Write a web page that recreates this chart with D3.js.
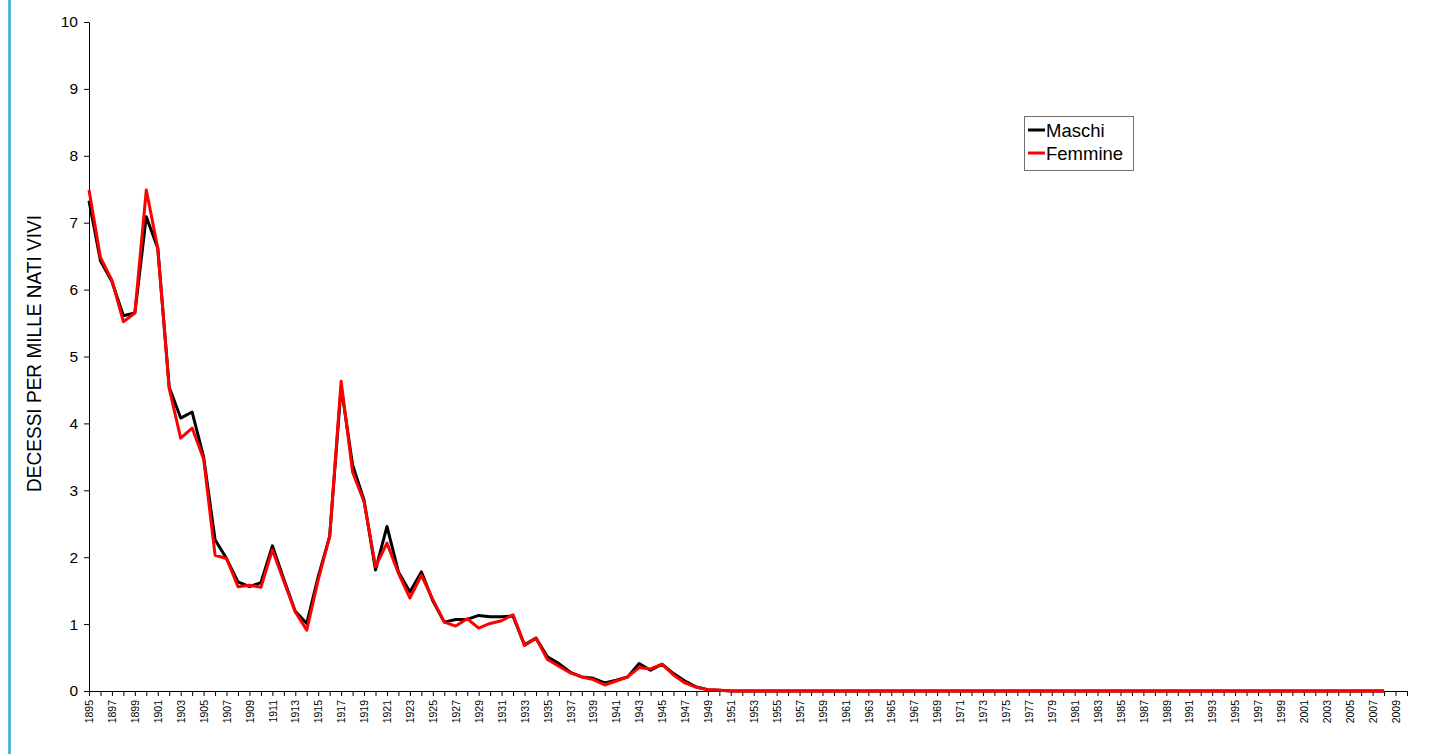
<!DOCTYPE html>
<html>
<head>
<meta charset="utf-8">
<script src="https://cdn.jsdelivr.net/npm/d3@7"></script>
<style>
  html, body { margin: 0; padding: 0; background: #fff; }
  svg { display: block; }
</style>
</head>
<body>
<svg id="chart" width="1432" height="754"></svg>
<script>
// ---- data ----
const firstYear = 1895;
const lastYear = 2010;
const categories = d3.range(firstYear, lastYear + 1); // 1895..2010 (axis categories)

const maschi = [
  7.33, 6.43, 6.12, 5.61, 5.65, 7.09, 6.62, 4.54, 4.08, 4.17,
  3.50, 2.26, 1.98, 1.63, 1.56, 1.62, 2.17, 1.67, 1.19, 1.01,
  1.71, 2.31, 4.55, 3.38, 2.85, 1.81, 2.46, 1.78, 1.48, 1.78,
  1.35, 1.03, 1.07, 1.07, 1.13, 1.11, 1.11, 1.12, 0.69, 0.79,
  0.51, 0.41, 0.28, 0.21, 0.19, 0.12, 0.16, 0.21, 0.41, 0.31,
  0.40, 0.26, 0.15, 0.06, 0.02,
  0.01, 0, 0, 0, 0, 0, 0, 0, 0, 0,
  0, 0, 0, 0, 0, 0, 0, 0, 0, 0,
  0, 0, 0, 0, 0, 0, 0, 0, 0, 0,
  0, 0, 0, 0, 0, 0, 0, 0, 0, 0,
  0, 0, 0, 0, 0, 0, 0, 0, 0, 0,
  0, 0, 0, 0, 0, 0, 0, 0, 0
];

const femmine = [
  7.49, 6.48, 6.14, 5.52, 5.65, 7.49, 6.62, 4.52, 3.78, 3.93,
  3.47, 2.03, 1.98, 1.56, 1.58, 1.55, 2.11, 1.64, 1.18, 0.91,
  1.66, 2.31, 4.63, 3.27, 2.83, 1.86, 2.21, 1.76, 1.39, 1.73,
  1.37, 1.03, 0.97, 1.08, 0.94, 1.01, 1.05, 1.14, 0.68, 0.79,
  0.47, 0.37, 0.27, 0.21, 0.17, 0.09, 0.15, 0.21, 0.35, 0.33,
  0.40, 0.24, 0.12, 0.055, 0.02,
  0.01, 0, 0, 0, 0, 0, 0, 0, 0, 0,
  0, 0, 0, 0, 0, 0, 0, 0, 0, 0,
  0, 0, 0, 0, 0, 0, 0, 0, 0, 0,
  0, 0, 0, 0, 0, 0, 0, 0, 0, 0,
  0, 0, 0, 0, 0, 0, 0, 0, 0, 0,
  0, 0, 0, 0, 0, 0, 0, 0, 0
];

const yTicks = [0, 1, 2, 3, 4, 5, 6, 7, 8, 9, 10];
const xTickLabels = categories.filter(y => y % 2 === 1); // 1895, 1897, ... 2009
const seriesNames = ["Maschi", "Femmine"];
const seriesColors = ["#000000", "#ff0000"];
const yTitle = "DECESSI PER MILLE NATI VIVI";

// ---- layout ----
const svg = d3.select("#chart");
const mLeft = 89, mRight = 1407, mTop = 22, mBottom = 691;

const x = d3.scaleLinear().domain([firstYear, lastYear]).range([mLeft, mRight]);
const y = d3.scaleLinear().domain([0, 10]).range([mBottom, mTop]);

// left blue rule
svg.append("line")
  .attr("x1", 9.5).attr("x2", 9.5).attr("y1", 0).attr("y2", 754)
  .attr("stroke", "#29abe2").attr("stroke-width", 2.5);

// Y axis
const yAxis = d3.axisLeft(y).tickValues(yTicks).tickFormat(d3.format("d"))
  .tickSize(5).tickSizeOuter(0).tickPadding(6);
const gy = svg.append("g").attr("transform", `translate(${mLeft},0)`).call(yAxis);
gy.selectAll("text").attr("font-family", "Liberation Sans, Arial, sans-serif")
  .attr("font-size", 15.5).attr("fill", "#000");
gy.selectAll("line, path").attr("stroke", "#000");

// X axis
const xAxis = d3.axisBottom(x).tickValues(categories)
  .tickFormat(d => (xTickLabels.includes(d) ? String(d) : ""))
  .tickSize(5).tickSizeOuter(0).tickPadding(4);
const gx = svg.append("g").attr("transform", `translate(0,${mBottom})`).call(xAxis);
gx.selectAll("line, path").attr("stroke", "#000");
gx.selectAll("text")
  .attr("font-family", "Liberation Sans, Arial, sans-serif")
  .attr("font-size", 10.5).attr("fill", "#000")
  .attr("text-anchor", "end")
  .attr("dy", "0.35em")
  .attr("transform", "translate(0,9) rotate(-90)")
  .attr("x", 0).attr("y", 0);

// Y title
svg.append("text")
  .attr("transform", `translate(41,353.5) rotate(-90)`)
  .attr("text-anchor", "middle")
  .attr("font-family", "Liberation Sans Narrow, Arial Narrow, Liberation Sans, sans-serif")
  .attr("font-size", 20)
  .attr("textLength", 277)
  .attr("lengthAdjust", "spacingAndGlyphs")
  .attr("fill", "#000")
  .text(yTitle);

// lines
const line = d3.line()
  .x((d, i) => x(categories[i]))
  .y(d => y(d));

[maschi, femmine].forEach((vals, k) => {
  svg.append("path")
    .datum(vals)
    .attr("fill", "none")
    .attr("stroke", seriesColors[k])
    .attr("stroke-width", 3)
    .attr("stroke-linejoin", "round")
    .attr("d", line);
});

// legend
const lg = svg.append("g").attr("transform", "translate(1024,116)");
lg.append("rect").attr("x", 0.5).attr("y", 0.5).attr("width", 109).attr("height", 54)
  .attr("fill", "#fff").attr("stroke", "#707070").attr("stroke-width", 1);
seriesNames.forEach((name, k) => {
  const cy = 14 + k * 23;
  lg.append("line").attr("x1", 4).attr("x2", 21).attr("y1", cy).attr("y2", cy)
    .attr("stroke", seriesColors[k]).attr("stroke-width", 3);
  lg.append("text").attr("x", 22).attr("y", cy).attr("dy", "0.36em")
    .attr("font-family", "Liberation Sans, Arial, sans-serif")
    .attr("font-size", 18.5).attr("fill", "#000").text(name);
});
</script>
</body>
</html>
